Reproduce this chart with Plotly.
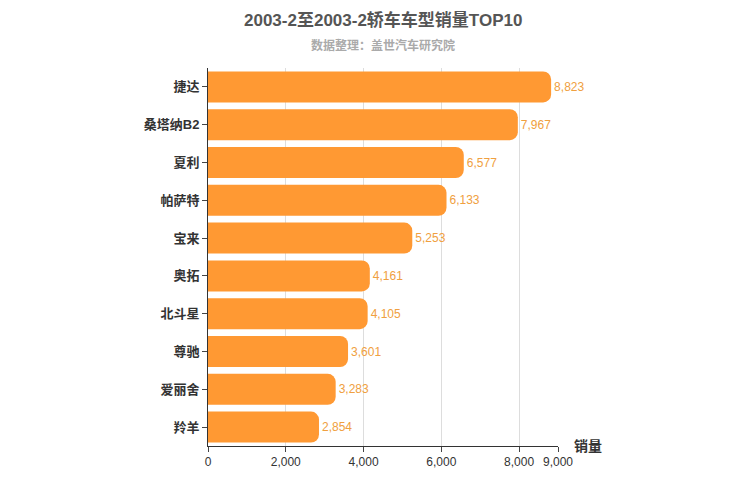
import plotly.graph_objects as go

models = ["捷达", "桑塔纳B2", "夏利", "帕萨特", "宝来", "奥拓", "北斗星", "尊驰", "爱丽舍", "羚羊"]
sales = [8823, 7967, 6577, 6133, 5253, 4161, 4105, 3601, 3283, 2854]
tick_vals = [0, 2000, 4000, 6000, 8000, 9000]
tick_text = ["0", "2,000", "4,000", "6,000", "8,000", "9,000"]

fig = go.Figure(go.Bar(
    y=[f"<b>{m}</b>" for m in models[::-1]], x=sales[::-1], orientation="h",
    marker=dict(color="#FF9933", line=dict(width=0)),
    text=[f"{v:,}" for v in sales[::-1]], textposition="outside",
    textfont=dict(color="#F0A040", size=12), cliponaxis=False, width=0.82,
))
fig.update_layout(
    width=750, height=500, plot_bgcolor="white", paper_bgcolor="white",
    margin=dict(l=200, r=200, t=60, b=62, autoexpand=False), barcornerradius=8,
    font=dict(family="Liberation Sans, Noto Sans CJK SC", color="#333"),
    xaxis=dict(range=[0, 9000], tickvals=tick_vals, ticktext=tick_text, showgrid=True, gridcolor="#ddd",
               showline=True, linecolor="#333", ticks="outside", tickfont=dict(size=12), automargin=False),
    yaxis=dict(showline=True, linecolor="#333", ticks="outside", tickfont=dict(size=13, color="#333"),
               showgrid=False, automargin=False),
    showlegend=False,
    annotations=[
        dict(text="<b>2003-2至2003-2轿车车型销量TOP10</b>", xref="paper", yref="paper", x=0.5, y=1.0,
             yshift=48, xanchor="center", yanchor="middle", showarrow=False, font=dict(size=17, color="#555")),
        dict(text="<b>数据整理：盖世汽车研究院</b>", xref="paper", yref="paper", x=0.5, y=1.0,
             yshift=23, xanchor="center", yanchor="middle", showarrow=False, font=dict(size=12, color="#aaa")),
        dict(text="<b>销量</b>", xref="paper", yref="paper", x=1.04, y=0, xanchor="left",
             yanchor="middle", showarrow=False, font=dict(size=14, color="#333")),
    ],
)
fig.write_html("out.html")
